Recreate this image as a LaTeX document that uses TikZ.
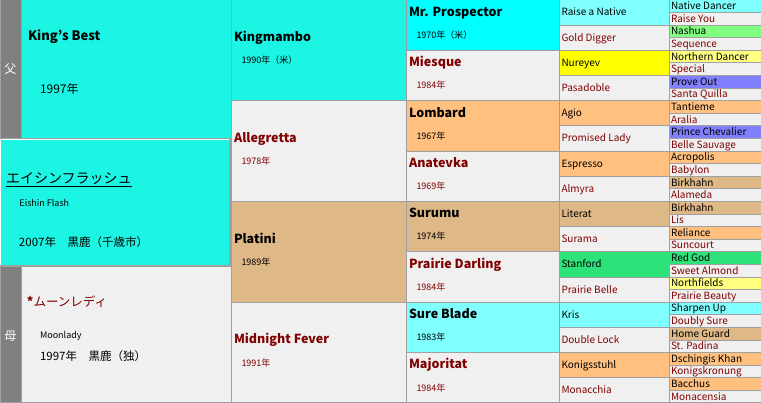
\documentclass[tikz,border=0pt]{standalone}
\usepackage{fontspec}
\setmainfont{Noto Sans CJK JP}
\definecolor{tq}{RGB}{28,245,228}
\definecolor{cy}{RGB}{0,255,255}
\definecolor{lc}{RGB}{128,255,255}
\definecolor{gb}{RGB}{240,240,240}
\definecolor{or}{RGB}{255,192,128}
\definecolor{tn}{RGB}{222,184,135}
\definecolor{ye}{RGB}{255,255,0}
\definecolor{ly}{RGB}{255,255,128}
\definecolor{lg}{RGB}{128,255,128}
\definecolor{dg}{RGB}{46,226,122}
\definecolor{bl}{RGB}{128,128,255}
\definecolor{fm}{RGB}{128,0,0}
\definecolor{ln}{RGB}{160,160,160}
\definecolor{sg}{RGB}{128,128,128}
\begin{document}
\begin{tikzpicture}[x=1pt,y=-1pt,
  cellbox/.style={draw=ln, line width=1pt, inner sep=0pt, outer sep=0pt, anchor=north west},
  plain/.style={inner sep=0pt, outer sep=0pt, anchor=base west},
  smallfont/.style={plain, font=\fontsize{10}{12}\selectfont},
  nmfont/.style={plain, font=\fontsize{12.5}{14}\selectfont\bfseries},
  yrfont/.style={plain, font=\fontsize{9}{11}\selectfont},
  bigfont/.style={plain, font=\fontsize{11.5}{13}\selectfont},
]
\useasboundingbox (0,0) rectangle (761,403);
\fill[white] (0,0) rectangle (761,403);

% generation 5
\foreach \nm/\cl/\tc [count=\i from 0] in {
  Native Dancer/lc/black, Raise You/gb/fm, Nashua/lg/black, Sequence/gb/fm,
  Northern Dancer/ly/black, Special/gb/fm, Prove Out/bl/black, Santa Quilla/gb/fm,
  Tantieme/or/black, Aralia/gb/fm, Prince Chevalier/bl/black, Belle Sauvage/gb/fm,
  Acropolis/or/black, Babylon/gb/fm, Birkhahn/tn/black, Alameda/gb/fm,
  Birkhahn/tn/black, Lis/gb/fm, Reliance/or/black, Suncourt/gb/fm,
  Red God/dg/black, Sweet Almond/gb/fm, Northfields/ly/black, Prairie Beauty/gb/fm,
  Sharpen Up/lc/black, Doubly Sure/gb/fm, Home Guard/tn/black, St. Padina/gb/fm,
  Dschingis Khan/or/black, Konigskronung/gb/fm, Bacchus/or/black, Monacensia/gb/fm}{
  \pgfmathsetmacro\yy{\i*12.59375}
  \node[cellbox, fill=\cl, minimum width=91.5pt, minimum height=12.59375pt] (g5c\i) at (669.5,\yy) {};
  \node[smallfont, text=\tc] (g5t\i) at ([xshift=1.5pt,yshift=-3.4pt]g5c\i.west) {\nm};
}

% generation 4
\foreach \nm/\cl/\tc [count=\i from 0] in {
  Raise a Native/lc/black, Gold Digger/gb/fm, Nureyev/ye/black, Pasadoble/gb/fm,
  Agio/or/black, Promised Lady/gb/fm, Espresso/or/black, Almyra/gb/fm,
  Literat/tn/black, Surama/gb/fm, Stanford/dg/black, Prairie Belle/gb/fm,
  Kris/lc/black, Double Lock/gb/fm, Konigsstuhl/or/black, Monacchia/gb/fm}{
  \pgfmathsetmacro\yy{\i*25.1875}
  \node[cellbox, fill=\cl, minimum width=110pt, minimum height=25.1875pt] (g4c\i) at (559.5,\yy) {};
  \node[smallfont, text=\tc] (g4t\i) at ([xshift=2pt,yshift=-3.4pt]g4c\i.west) {\nm};
}

% generation 3
\foreach \nm/\yr/\cl/\tc [count=\i from 0] in {
  Mr. Prospector/1970年（米）/cy/black, Miesque/1984年/gb/fm,
  Lombard/1967年/or/black, Anatevka/1969年/gb/fm,
  Surumu/1974年/tn/black, Prairie Darling/1984年/gb/fm,
  Sure Blade/1983年/lc/black, Majoritat/1984年/gb/fm}{
  \pgfmathsetmacro\yy{\i*50.375}
  \node[cellbox, fill=\cl, minimum width=153pt, minimum height=50.375pt] (g3c\i) at (406.5,\yy) {};
  \node[nmfont, text=\tc] (g3n\i) at ([xshift=2.5pt,yshift=-16.3pt]g3c\i.north west) {\nm};
  \node[yrfont, text=\tc] (g3y\i) at ([xshift=10pt,yshift=-38.5pt]g3c\i.north west) {\yr};
}

% generation 2
\foreach \nm/\yr/\cl/\tc [count=\i from 0] in {
  Kingmambo/1990年（米）/tq/black, Allegretta/1978年/gb/fm,
  Platini/1989年/tn/black, Midnight Fever/1991年/gb/fm}{
  \pgfmathsetmacro\yy{\i*100.75}
  \node[cellbox, fill=\cl, minimum width=175pt, minimum height=100.75pt] (g2c\i) at (231.5,\yy) {};
  \node[nmfont, text=\tc] (g2n\i) at ([xshift=2.5pt,yshift=-41.7pt]g2c\i.north west) {\nm};
  \node[yrfont, text=\tc] (g2y\i) at ([xshift=10pt,yshift=-63.8pt]g2c\i.north west) {\yr};
}

% sire
\node[cellbox, fill=sg, minimum width=21pt, minimum height=139pt] (fa) at (0,0) {};
\node[cellbox, fill=tq, minimum width=210.5pt, minimum height=139pt] (kb) at (21,0) {};
\node[text=white, font=\fontsize{12}{14}\selectfont, inner sep=0pt] (fal) at (fa.center) {父};
\node[plain, font=\fontsize{13}{15}\selectfont\bfseries] (kbn) at ([xshift=7pt,yshift=-41pt]kb.north west) {King's Best};
\node[plain, font=\fontsize{12}{14}\selectfont] (kby) at ([xshift=19pt,yshift=-94pt]kb.north west) {1997年};

% dam
\node[cellbox, fill=sg, minimum width=21pt, minimum height=136.5pt] (mo) at (0,266.5) {};
\node[cellbox, fill=gb, minimum width=210.5pt, minimum height=136.5pt] (md) at (21,266.5) {};
\node[text=white, font=\fontsize{12}{14}\selectfont, inner sep=0pt] (mol) at ([yshift=-1.5pt]mo.center) {母};
\node[plain, text=fm, font=\fontsize{12.5}{15}\selectfont] (mdn) at ([xshift=6pt,yshift=-40.5pt]md.north west) {\textbf{*}ムーンレディ};
\node[plain, font=\fontsize{9}{11}\selectfont] (mde) at ([xshift=19pt,yshift=-72.5pt]md.north west) {Moonlady};
\node[bigfont] (mdy) at ([xshift=19pt,yshift=-94.5pt]md.north west) {1997年　黒鹿（独）};

% main horse
\node[anchor=north west, fill=tq, inner sep=0pt, outer sep=0pt, minimum width=230pt, minimum height=126pt] (mn) at (0,139.5) {};
\draw[white, line width=1.5pt] (mn.south west) |- (mn.north east);
\draw[ln, line width=1.5pt] (mn.north east) |- (mn.south west);
\node[plain, font=\fontsize{14}{16}\selectfont] (mnn) at ([xshift=6pt,yshift=-44pt]mn.north west) {\underline{エイシンフラッシュ}};
\node[plain, font=\fontsize{9}{11}\selectfont] (mne) at ([xshift=19.5pt,yshift=-67pt]mn.north west) {Eishin Flash};
\node[bigfont] (mny) at ([xshift=19pt,yshift=-107pt]mn.north west) {2007年　黒鹿（千歳市）};
\end{tikzpicture}
\end{document}
